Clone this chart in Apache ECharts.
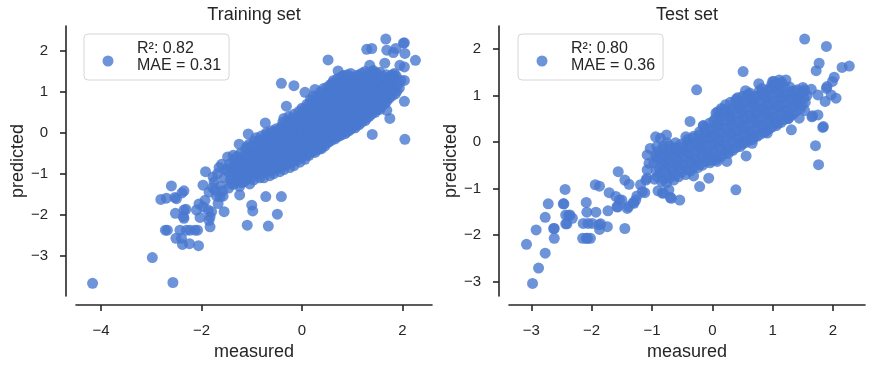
<!DOCTYPE html>
<html><head><meta charset="utf-8">
<script src="https://cdn.jsdelivr.net/npm/echarts@6/dist/echarts.min.js"></script>
<style>html,body{margin:0;padding:0;background:#fff}#c{width:872px;height:368px}</style>
</head><body><div id="c"></div>
<script>
// [measured, predicted]
const trainPoints = [
[-4.17,-3.68],[-2.98,-3.05],[-2.57,-3.66],
[-2.81,-1.63],[-2.70,-1.60],[-2.60,-1.30],[-2.53,-1.58],[-2.39,-1.47],[-2.35,-1.42],[-2.50,-1.61],
[-2.52,-1.97],[-2.35,-1.89],[-2.35,-2.09],[-2.31,-1.87],[-2.36,-2.05],
[-2.72,-2.38],[-2.68,-2.38],[-2.43,-2.38],[-2.30,-2.38],[-2.23,-2.38],[-2.13,-2.38],[-2.08,-2.38],
[-2.51,-2.58],[-2.40,-2.58],[-2.38,-2.73],[-2.24,-2.71],[-2.06,-2.76],
[-2.10,-1.89],[-2.03,-2.07],[-1.97,-1.28],[-2.05,-1.74],[-1.93,-1.65],[-1.87,-1.89],[-1.83,-2.30],[-1.85,-2.14],[-1.83,-2.05],[-1.80,-1.93],[-1.97,-1.81],
[-1.92,-0.95],[-1.77,-1.08],[-1.73,-1.40],[-1.67,-1.73],[-1.63,-1.56],[-1.55,-1.93],[-1.60,-0.77],[-1.48,-0.59],[-1.37,-0.55],[-1.78,-1.34],[-1.57,-1.55],
[-1.09,-2.26],[-1.00,-1.77],[-0.98,-1.91],[-0.72,-1.56],[-0.41,-1.56],[-0.67,-2.28],[-0.49,-1.99],[-1.24,-1.52],
[-1.25,-0.28],[-1.07,-0.03],[-0.73,0.24],[-0.31,0.65],[-0.41,1.21],[-0.16,1.15],[0.06,0.99],[0.26,1.06],[0.52,1.78],[0.72,1.51],
[1.67,2.29],[1.29,2.04],[1.39,2.06],[1.69,2.02],[1.82,1.96],[1.87,2.06],[2.04,2.20],[2.05,1.94],[2.26,1.77],[1.95,1.65],[2.04,1.61],[1.65,1.70],[1.35,1.65],[2.04,1.28],[2.04,0.77],[2.05,-0.16],[1.40,-0.04],[1.75,0.35],[1.69,0.55],[1.55,0.57],[1.82,1.08],[1.62,0.81],[1.08,0.21],[0.62,-0.10],[0.39,-0.39],[2.02,2.19],[1.64,0.82],
[-1.85,-1.45],[-1.75,-1.2],[-1.68,-1.0],[-1.62,-1.3],[-1.55,-1.1],[-1.52,-0.9],[-1.58,-1.42],[-1.7,-1.55],[-1.65,-0.85],
[-1.46,-1.35],[-1.43,-1.15],[-1.47,-0.95],[-1.44,-0.76],
[-1.36,-1.26],[-1.33,-1.04],[-1.37,-0.86],[-1.34,-0.66],
[-1.24,-1.31],[-1.27,-1.1],[-1.23,-0.9],[-1.26,-0.71],[-1.22,-0.5],
[-1.16,-1.2],[-1.13,-1.0],[-1.17,-0.81],[-1.14,-0.6],[-1.12,-0.42],
[-1.04,-1.25],[-1.07,-1.05],[-1.03,-0.85],[-1.06,-0.66],[-1.02,-0.45],[-1.05,-0.28],
[-0.96,-1.15],[-0.93,-0.95],[-0.97,-0.76],[-0.94,-0.58],[-0.92,-0.4],[-0.95,-0.2],
[-0.84,-1.1],[-0.87,-0.9],[-0.83,-0.72],[-0.86,-0.55],[-0.82,-0.38],[-0.85,-0.18],
[-0.76,-1.1],[-0.73,-0.9],[-0.77,-0.7],[-0.74,-0.52],[-0.72,-0.35],[-0.75,-0.15],[-0.71,0.0],
[-0.64,-1.05],[-0.67,-0.85],[-0.63,-0.65],[-0.66,-0.48],[-0.62,-0.3],[-0.65,-0.12],[-0.61,0.05],
[-0.56,-1.0],[-0.53,-0.8],[-0.57,-0.6],[-0.54,-0.42],[-0.52,-0.25],[-0.55,-0.08],[-0.51,0.1],
[-0.44,-0.95],[-0.47,-0.75],[-0.43,-0.55],[-0.46,-0.38],[-0.42,-0.2],[-0.45,-0.02],[-0.41,0.15],
[-0.36,-0.9],[-0.33,-0.7],[-0.37,-0.5],[-0.34,-0.32],[-0.32,-0.15],[-0.35,0.02],[-0.31,0.2],[-0.36,0.35],
[-0.24,-0.85],[-0.27,-0.65],[-0.23,-0.45],[-0.26,-0.28],[-0.22,-0.1],[-0.25,0.08],[-0.21,0.25],[-0.26,0.4],
[-0.16,-0.8],[-0.13,-0.6],[-0.17,-0.4],[-0.14,-0.22],[-0.12,-0.05],[-0.15,0.12],[-0.11,0.3],[-0.16,0.45],
[-0.04,-0.72],[-0.07,-0.52],[-0.03,-0.35],[-0.06,-0.18],[-0.02,0.0],[-0.05,0.18],[-0.01,0.35],[-0.06,0.52],
[0.06,-0.65],[0.03,-0.45],[0.07,-0.28],[0.04,-0.1],[0.08,0.05],[0.05,0.22],[0.09,0.4],[0.04,0.58],
[0.14,-0.55],[0.17,-0.38],[0.13,-0.2],[0.16,-0.02],[0.12,0.15],[0.15,0.32],[0.18,0.5],[0.14,0.68],[0.17,0.82],
[0.26,-0.48],[0.23,-0.3],[0.27,-0.12],[0.24,0.05],[0.28,0.22],[0.25,0.4],[0.22,0.58],[0.26,0.75],[0.23,0.9],
[0.34,-0.4],[0.37,-0.22],[0.33,-0.05],[0.36,0.12],[0.32,0.3],[0.35,0.48],[0.38,0.65],[0.34,0.82],[0.37,1.0],
[0.46,-0.32],[0.43,-0.15],[0.47,0.02],[0.44,0.2],[0.48,0.38],[0.45,0.55],[0.42,0.72],[0.46,0.9],[0.43,1.08],
[0.54,-0.22],[0.57,-0.05],[0.53,0.12],[0.56,0.3],[0.52,0.48],[0.55,0.65],[0.58,0.82],[0.54,1.0],[0.57,1.18],
[0.66,-0.15],[0.63,0.02],[0.67,0.2],[0.64,0.38],[0.68,0.55],[0.65,0.72],[0.62,0.9],[0.66,1.08],[0.63,1.28],
[0.74,-0.08],[0.77,0.1],[0.73,0.28],[0.76,0.45],[0.72,0.62],[0.75,0.8],[0.78,0.98],[0.74,1.15],[0.77,1.35],
[0.86,-0.02],[0.83,0.15],[0.87,0.32],[0.84,0.5],[0.88,0.68],[0.85,0.85],[0.82,1.02],[0.86,1.2],[0.83,1.4],
[0.94,0.05],[0.97,0.22],[0.93,0.4],[0.96,0.58],[0.92,0.75],[0.95,0.92],[0.98,1.1],[0.94,1.28],[0.97,1.45],
[1.06,0.12],[1.03,0.3],[1.07,0.48],[1.04,0.65],[1.08,0.82],[1.05,1.0],[1.02,1.18],[1.06,1.35],
[1.14,0.2],[1.17,0.38],[1.13,0.55],[1.16,0.72],[1.12,0.9],[1.15,1.08],[1.18,1.25],[1.14,1.42],
[1.26,0.3],[1.23,0.48],[1.27,0.65],[1.24,0.82],[1.28,1.0],[1.25,1.18],[1.22,1.35],[1.26,1.5],
[1.34,0.4],[1.37,0.58],[1.33,0.75],[1.36,0.92],[1.32,1.1],[1.35,1.28],[1.38,1.45],
[1.46,0.5],[1.43,0.68],[1.47,0.85],[1.44,1.02],[1.48,1.2],[1.45,1.38],[1.42,1.52],
[1.54,0.62],[1.57,0.8],[1.53,0.98],[1.56,1.15],[1.52,1.32],[1.55,1.48],
[1.66,0.72],[1.63,0.9],[1.67,1.08],[1.64,1.25],[1.68,1.42],
[1.74,0.85],[1.77,1.02],[1.73,1.2],[1.76,1.38],
[1.86,0.95],[1.83,1.12],[1.87,1.3],[1.84,1.45],
[1.94,1.1],[1.97,1.28],
[-1.41,-1.25],[-1.38,-1.05],[-1.42,-0.85],
[-1.31,-1.2],[-1.28,-1.0],[-1.32,-0.78],[-1.29,-0.58],
[-1.21,-1.22],[-1.18,-1.02],[-1.22,-0.82],[-1.19,-0.62],
[-1.11,-1.15],[-1.08,-0.92],[-1.12,-0.72],[-1.09,-0.52],[-1.1,-0.35],
[-1.01,-1.1],[-0.98,-0.88],[-1.02,-0.68],[-0.99,-0.5],[-1.0,-0.32],
[-0.91,-1.02],[-0.88,-0.82],[-0.92,-0.65],[-0.89,-0.48],[-0.9,-0.3],[-0.91,-0.12],
[-0.81,-1.0],[-0.78,-0.8],[-0.82,-0.62],[-0.79,-0.44],[-0.8,-0.26],[-0.81,-0.08],
[-0.71,-0.95],[-0.68,-0.78],[-0.72,-0.58],[-0.69,-0.4],[-0.7,-0.22],[-0.71,-0.05],
[-0.61,-0.92],[-0.58,-0.72],[-0.62,-0.52],[-0.59,-0.35],[-0.6,-0.18],[-0.61,0.0],
[-0.51,-0.88],[-0.48,-0.68],[-0.52,-0.48],[-0.49,-0.3],[-0.5,-0.12],[-0.51,0.05],
[-0.41,-0.82],[-0.38,-0.62],[-0.42,-0.45],[-0.39,-0.25],[-0.4,-0.08],[-0.41,0.1],[-0.38,0.26],
[-0.31,-0.78],[-0.28,-0.58],[-0.32,-0.4],[-0.29,-0.22],[-0.3,-0.05],[-0.31,0.12],[-0.28,0.3],
[-0.21,-0.72],[-0.18,-0.52],[-0.22,-0.35],[-0.19,-0.18],[-0.2,0.0],[-0.21,0.18],[-0.18,0.35],
[-0.11,-0.68],[-0.08,-0.48],[-0.12,-0.3],[-0.09,-0.12],[-0.1,0.05],[-0.11,0.22],[-0.08,0.4],
[-0.01,-0.6],[0.02,-0.42],[-0.02,-0.25],[0.01,-0.08],[0.0,0.1],[-0.01,0.28],[0.02,0.45],[0.0,0.6],
[0.09,-0.55],[0.12,-0.35],[0.08,-0.18],[0.11,0.0],[0.1,0.18],[0.09,0.35],[0.12,0.52],[0.1,0.7],
[0.19,-0.48],[0.22,-0.3],[0.18,-0.12],[0.21,0.06],[0.2,0.24],[0.19,0.42],[0.22,0.6],[0.2,0.78],
[0.29,-0.42],[0.32,-0.22],[0.28,-0.04],[0.31,0.14],[0.3,0.32],[0.29,0.5],[0.32,0.68],[0.3,0.86],
[0.39,-0.35],[0.42,-0.15],[0.38,0.04],[0.41,0.22],[0.4,0.4],[0.39,0.58],[0.42,0.76],[0.4,0.94],
[0.49,-0.25],[0.52,-0.08],[0.48,0.1],[0.51,0.28],[0.5,0.46],[0.49,0.64],[0.52,0.82],[0.5,1.0],[0.51,1.12],
[0.59,-0.18],[0.62,0.0],[0.58,0.18],[0.61,0.36],[0.6,0.54],[0.59,0.72],[0.62,0.9],[0.6,1.1],[0.61,1.22],
[0.69,-0.1],[0.72,0.08],[0.68,0.26],[0.71,0.44],[0.7,0.62],[0.69,0.8],[0.72,0.98],[0.7,1.16],[0.71,1.32],
[0.79,-0.05],[0.82,0.14],[0.78,0.32],[0.81,0.5],[0.8,0.68],[0.79,0.86],[0.82,1.04],[0.8,1.22],[0.81,1.38],
[0.89,0.02],[0.92,0.2],[0.88,0.38],[0.91,0.56],[0.9,0.74],[0.89,0.92],[0.92,1.1],[0.9,1.28],[0.91,1.42],
[0.99,0.1],[1.02,0.28],[0.98,0.46],[1.01,0.64],[1.0,0.82],[0.99,1.0],[1.02,1.18],[1.0,1.36],
[1.09,0.18],[1.12,0.36],[1.08,0.54],[1.11,0.72],[1.1,0.9],[1.09,1.08],[1.12,1.26],[1.1,1.4],
[1.19,0.26],[1.22,0.44],[1.18,0.62],[1.21,0.8],[1.2,0.98],[1.19,1.16],[1.22,1.34],[1.2,1.46],
[1.29,0.36],[1.32,0.54],[1.28,0.72],[1.31,0.9],[1.3,1.08],[1.29,1.26],[1.32,1.42],
[1.39,0.46],[1.42,0.64],[1.38,0.82],[1.41,1.0],[1.4,1.18],[1.39,1.36],[1.42,1.5],
[1.49,0.56],[1.52,0.74],[1.48,0.92],[1.51,1.1],[1.5,1.28],[1.49,1.45],
[1.59,0.66],[1.62,0.84],[1.58,1.02],[1.61,1.2],[1.6,1.38],
[1.69,0.78],[1.72,0.96],[1.68,1.14],[1.71,1.32],
[1.79,0.9],[1.82,1.08],[1.78,1.26],[1.81,1.42],
[1.89,1.02],[1.92,1.2],[1.88,1.38]
];
const testPoints = [
[-2.98,-3.04],[-3.08,-2.20],[-2.88,-2.71],[-2.77,-2.39],[-2.92,-1.89],[-2.77,-1.62],[-2.72,-1.33],[-2.62,-1.86],[-2.62,-2.07],
[-2.44,-1.02],[-2.47,-1.33],[-2.43,-1.57],[-2.41,-1.76],[-2.36,-1.57],[-2.32,-1.64],
[-2.09,-1.30],[-2.08,-1.51],[-2.14,-1.75],[-2.06,-1.75],[-2.15,-2.07],[-2.07,-2.07],[-2.02,-2.07],
[-1.94,-0.92],[-1.87,-0.95],[-1.93,-1.51],[-1.87,-1.88],[-1.85,-1.76],[-1.74,-1.82],[-1.73,-1.48],[-1.71,-1.09],
[-1.60,-1.17],[-1.56,-0.64],[-1.54,-1.25],[-1.57,-1.40],[-1.45,-1.86],[-1.45,-0.82],[-1.38,-0.91],[-1.39,-1.39],
[-1.31,-1.30],[-1.27,-1.25],[-1.19,-0.92],[-1.12,-1.09],[-1.10,-0.82],[-1.08,-0.28],[-1.08,-0.60],
[-0.94,0.11],[-0.90,-1.05],[-0.83,-1.10],[-0.76,0.15],[-0.68,-1.21],[-0.54,-1.25],[-0.60,-0.14],[-0.44,0.11],
[-0.37,0.44],[-0.26,1.12],[-0.21,-0.96],[-0.06,-0.78],[-0.15,0.34],[0.06,0.62],[0.15,0.72],[0.39,-1.03],[0.56,-0.30],
[0.51,1.51],[0.55,1.10],[0.77,1.25],[1.00,1.30],[1.11,1.33],[1.22,1.33],[1.31,0.26],[1.44,0.51],[1.50,1.17],
[1.53,2.21],[1.53,0.67],[1.64,1.13],[1.66,0.56],[1.75,0.58],[1.71,-0.08],[1.76,-0.49],[1.83,0.31],[1.72,1.53],
[1.77,1.69],[1.75,1.01],[1.89,2.05],[1.87,0.87],[1.89,1.15],[1.99,1.30],[2.02,1.39],[1.97,1.01],[2.05,0.94],[2.15,1.60],[2.27,1.63],
[-0.86,0.08],[-1.03,-0.14],[-1.08,-0.78],[-1.16,-1.07],[-1.25,-1.16],[-0.72,-1.03],[-0.70,-1.19],[-0.31,-0.73],
[0.24,-0.42],[0.08,-0.42],[1.26,0.51],[1.04,0.40],[0.91,0.19],[0.66,-0.03],[1.84,0.33],[1.65,0.54],[1.90,1.19],
[-1.50,-1.25],[-1.58,-1.39],[-1.41,-1.43],[-1.30,-1.32],[-1.88,-1.78],[-1.99,-1.75],[-2.09,-2.07],
[-2.38,-1.58],[-2.43,-1.76],[-2.46,-1.33],[-2.63,-1.86],[-1.05,-0.46],[-0.92,-0.32],[-0.81,-1.10],
[-0.96,-0.8],[-0.93,-0.62],[-0.97,-0.45],[-0.94,-0.28],[-0.92,-0.1],
[-0.84,-0.85],[-0.87,-0.68],[-0.83,-0.5],[-0.86,-0.32],[-0.82,-0.15],
[-0.76,-0.88],[-0.73,-0.7],[-0.77,-0.52],[-0.74,-0.35],[-0.72,-0.18],[-0.75,-0.02],
[-0.64,-0.82],[-0.67,-0.65],[-0.63,-0.48],[-0.66,-0.3],[-0.62,-0.12],
[-0.56,-0.75],[-0.53,-0.58],[-0.57,-0.4],[-0.54,-0.22],[-0.52,-0.05],
[-0.44,-0.7],[-0.47,-0.52],[-0.43,-0.35],[-0.46,-0.18],[-0.42,0.0],
[-0.36,-0.62],[-0.33,-0.45],[-0.37,-0.28],[-0.34,-0.1],[-0.32,0.08],
[-0.24,-0.55],[-0.27,-0.38],[-0.23,-0.2],[-0.26,-0.02],[-0.22,0.15],
[-0.16,-0.5],[-0.13,-0.32],[-0.17,-0.15],[-0.14,0.02],[-0.12,0.2],[-0.15,0.35],
[-0.04,-0.45],[-0.07,-0.28],[-0.03,-0.1],[-0.06,0.08],[-0.02,0.25],[-0.05,0.4],
[0.06,-0.38],[0.03,-0.2],[0.07,-0.02],[0.04,0.15],[0.08,0.32],[0.05,0.5],[0.09,0.65],
[0.14,-0.32],[0.17,-0.15],[0.13,0.02],[0.16,0.2],[0.12,0.38],[0.15,0.55],[0.18,0.7],
[0.26,-0.25],[0.23,-0.08],[0.27,0.1],[0.24,0.28],[0.28,0.45],[0.25,0.62],[0.22,0.8],
[0.34,-0.18],[0.37,0.0],[0.33,0.18],[0.36,0.35],[0.32,0.52],[0.35,0.7],[0.38,0.88],
[0.46,-0.1],[0.43,0.08],[0.47,0.25],[0.44,0.42],[0.48,0.6],[0.45,0.78],[0.42,0.95],
[0.54,-0.02],[0.57,0.15],[0.53,0.32],[0.56,0.5],[0.52,0.68],[0.55,0.85],[0.58,1.0],
[0.66,0.05],[0.63,0.22],[0.67,0.4],[0.64,0.58],[0.68,0.75],[0.65,0.92],[0.62,1.05],
[0.74,0.12],[0.77,0.3],[0.73,0.48],[0.76,0.65],[0.72,0.82],[0.75,0.98],[0.78,1.1],
[0.86,0.2],[0.83,0.38],[0.87,0.55],[0.84,0.72],[0.88,0.9],[0.85,1.05],[0.82,1.15],
[0.94,0.28],[0.97,0.45],[0.93,0.62],[0.96,0.8],[0.92,0.98],[0.95,1.12],[0.98,1.22],
[1.06,0.35],[1.03,0.52],[1.07,0.7],[1.04,0.88],[1.08,1.05],[1.05,1.2],[1.02,1.3],
[1.14,0.42],[1.17,0.6],[1.13,0.78],[1.16,0.95],[1.12,1.12],[1.15,1.28],
[1.26,0.5],[1.23,0.68],[1.27,0.85],[1.24,1.02],[1.28,1.18],
[1.34,0.6],[1.37,0.78],[1.33,0.95],[1.36,1.1],
[1.46,0.72],[1.43,0.9],[1.47,1.05],
[1.54,0.85],[1.57,1.0],[1.53,1.12],
[-0.91,-0.75],[-0.88,-0.55],[-0.9,-0.38],[-0.89,-0.2],
[-0.81,-0.8],[-0.78,-0.6],[-0.8,-0.42],[-0.79,-0.25],[-0.81,-0.08],
[-0.71,-0.78],[-0.68,-0.58],[-0.7,-0.4],[-0.69,-0.22],[-0.71,-0.08],
[-0.61,-0.72],[-0.58,-0.52],[-0.6,-0.35],[-0.59,-0.18],[-0.61,-0.02],
[-0.51,-0.65],[-0.48,-0.48],[-0.5,-0.3],[-0.49,-0.12],
[-0.41,-0.6],[-0.38,-0.42],[-0.4,-0.25],[-0.39,-0.08],[-0.41,0.05],
[-0.31,-0.55],[-0.28,-0.38],[-0.3,-0.2],[-0.29,-0.02],[-0.31,0.12],
[-0.21,-0.48],[-0.18,-0.3],[-0.2,-0.12],[-0.19,0.05],[-0.21,0.22],
[-0.11,-0.42],[-0.08,-0.25],[-0.1,-0.08],[-0.09,0.1],[-0.11,0.28],
[-0.01,-0.4],[0.02,-0.22],[0.0,-0.05],[0.01,0.12],[-0.01,0.3],[0.02,0.45],
[0.09,-0.32],[0.12,-0.12],[0.1,0.05],[0.11,0.22],[0.09,0.4],[0.12,0.58],
[0.19,-0.25],[0.22,-0.06],[0.2,0.12],[0.21,0.3],[0.19,0.48],[0.22,0.64],
[0.29,-0.2],[0.32,0.0],[0.3,0.18],[0.31,0.36],[0.29,0.54],[0.32,0.72],[0.3,0.85],
[0.39,-0.12],[0.42,0.08],[0.4,0.26],[0.41,0.44],[0.39,0.62],[0.42,0.8],[0.4,0.92],
[0.49,-0.05],[0.52,0.14],[0.5,0.32],[0.51,0.5],[0.49,0.68],[0.52,0.86],[0.5,0.98],
[0.59,0.02],[0.62,0.2],[0.6,0.38],[0.61,0.56],[0.59,0.74],[0.62,0.92],[0.6,1.02],
[0.69,0.1],[0.72,0.28],[0.7,0.46],[0.71,0.64],[0.69,0.82],[0.72,0.98],
[0.79,0.16],[0.82,0.34],[0.8,0.52],[0.81,0.7],[0.79,0.88],[0.82,1.04],
[0.89,0.24],[0.92,0.42],[0.9,0.6],[0.91,0.78],[0.89,0.96],[0.92,1.12],
[0.99,0.32],[1.02,0.5],[1.0,0.68],[1.01,0.86],[0.99,1.04],[1.02,1.2],
[1.09,0.4],[1.12,0.58],[1.1,0.76],[1.11,0.94],[1.09,1.12],[1.12,1.25],
[1.19,0.48],[1.22,0.66],[1.2,0.84],[1.21,1.02],[1.19,1.18],
[1.29,0.56],[1.32,0.74],[1.3,0.92],[1.31,1.08],
[1.39,0.66],[1.42,0.84],[1.4,1.0],[1.41,1.12],
[1.49,0.8],[1.52,0.95],[1.5,1.08]
];
const trainXTicks = [-4, -2, 0, 2];
const trainYTicks = [-3, -2, -1, 0, 1, 2];
const testXTicks = [-3, -2, -1, 0, 1, 2];
const testYTicks = [-3, -2, -1, 0, 1, 2];
const titles = ['Training set', 'Test set'];
const legendLabels = ['R\u00b2: 0.82\nMAE = 0.31', 'R\u00b2: 0.80\nMAE = 0.36'];
const xRanges = [[-4.50, 2.59], [-3.37, 2.53]];
const yRanges = [[-3.99, 2.61], [-3.31, 2.49]];

const FONT = '"Liberation Sans", Arial, sans-serif';
const INK = '#262626';
const fmt = v => String(v).replace('-', '\u2212');
const grids = [{left: 76, top: 26, width: 356, height: 270}, {left: 509, top: 26, width: 356, height: 270}];
const xt = [trainXTicks, testXTicks], yt = [trainYTicks, testYTicks];
const data = [trainPoints, testPoints];
// circle icon sitting slightly below the text centre (invisible zero-area stub extends the box upward)
const LEGEND_ICON = 'path://M5.5,0L5.5,0.01Z M0,13.5a5.5,5.5 0 1,0 11,0a5.5,5.5 0 1,0 -11,0Z';

function xAxis(i) {
  return {
    gridIndex: i, type: 'value', min: xRanges[i][0], max: xRanges[i][1], offset: 9,
    axisLine: {onZero: false, lineStyle: {color: INK, width: 1.6}},
    axisTick: {customValues: xt[i], length: 6, lineStyle: {color: INK, width: 1.6}},
    axisLabel: {customValues: xt[i], formatter: fmt, margin: 18, fontSize: 15, color: INK, fontFamily: FONT},
    splitLine: {show: false},
    name: 'measured', nameLocation: 'middle', nameGap: 37,
    nameTextStyle: {fontSize: 18, color: INK, fontFamily: FONT}
  };
}
function yAxis(i) {
  return {
    gridIndex: i, type: 'value', min: yRanges[i][0], max: yRanges[i][1], offset: 10,
    axisLine: {onZero: false, lineStyle: {color: INK, width: 1.6}},
    axisTick: {customValues: yt[i], length: 6, lineStyle: {color: INK, width: 1.6}},
    axisLabel: {customValues: yt[i], formatter: fmt, margin: 18, fontSize: 15, color: INK, fontFamily: FONT},
    splitLine: {show: false},
    name: 'predicted', nameLocation: 'middle', nameGap: 38,
    nameTextStyle: {fontSize: 18, color: INK, fontFamily: FONT}
  };
}
function legend(i) {
  return {
    data: [legendLabels[i]], left: i === 0 ? 84 : 518, top: 34, orient: 'vertical',
    icon: LEGEND_ICON, itemWidth: 48, itemHeight: 19, symbolKeepAspect: true,
    padding: [6, 8, 6, 18.5], borderColor: '#d6d6d6', borderWidth: 1, borderRadius: 4,
    backgroundColor: 'rgba(255,255,255,0.8)', selectedMode: false,
    textStyle: {fontSize: 16, lineHeight: 17, color: INK, fontFamily: FONT}
  };
}
const chart = echarts.init(document.getElementById('c'), null, {renderer: 'canvas'});
chart.setOption({
  animation: false,
  backgroundColor: '#ffffff',
  grid: grids,
  xAxis: [xAxis(0), xAxis(1)],
  yAxis: [yAxis(0), yAxis(1)],
  legend: [legend(0), legend(1)],
  graphic: titles.map((t, i) => ({
    type: 'text', x: grids[i].left + grids[i].width / 2, y: 15,
    style: {text: t, textAlign: 'center', textVerticalAlign: 'middle', fontSize: 18, fill: INK, fontFamily: FONT}
  })),
  series: data.map((d, i) => ({
    type: 'scatter', name: legendLabels[i], xAxisIndex: i, yAxisIndex: i,
    data: d, symbolSize: 11,
    itemStyle: {color: '#4878d0', opacity: 0.8},
    emphasis: {disabled: true}
  }))
});
</script></body></html>
